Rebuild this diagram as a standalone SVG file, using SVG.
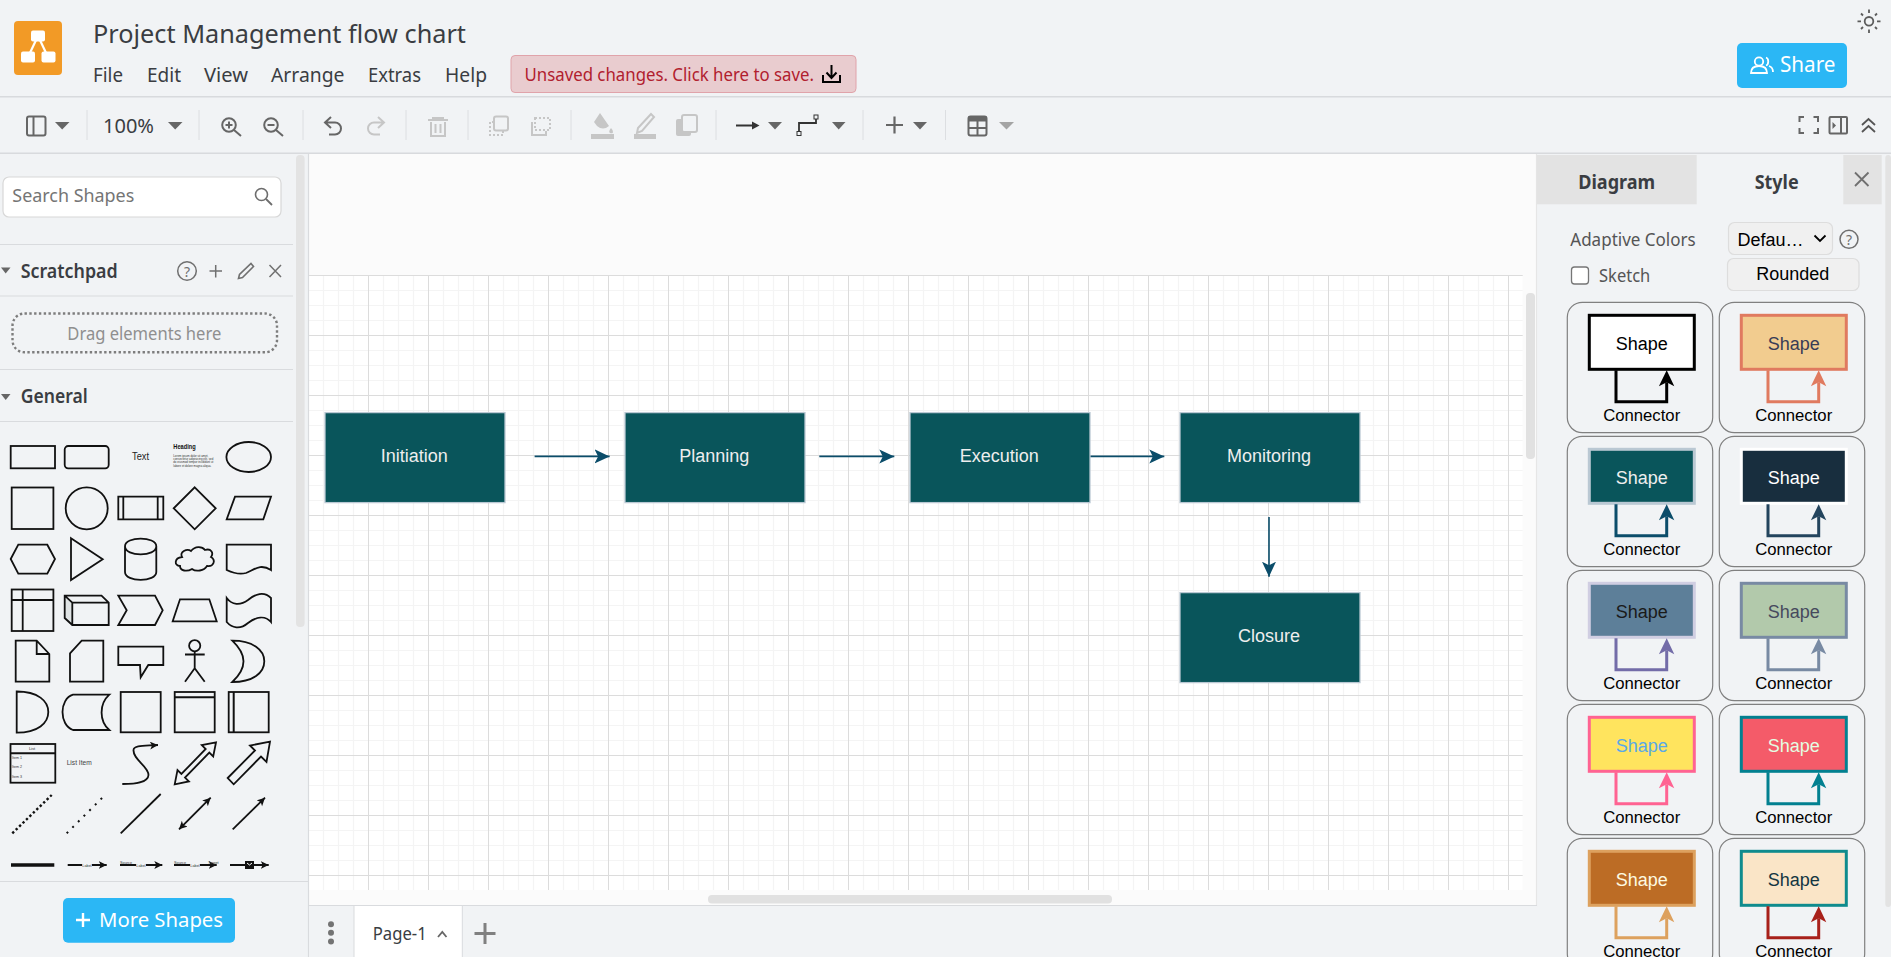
<svg xmlns="http://www.w3.org/2000/svg" width="1891" height="957" viewBox="0 0 1891 957">
<style>
text{font-family:"Noto Sans","Open Sans","Liberation Sans",sans-serif;fill:#3a3d42}
.ls{font-family:"Liberation Sans",Arial,sans-serif}
.sep{stroke:#dcdee1;stroke-width:1;fill:none}
.rule{stroke:#d8dadd;stroke-width:1.5;fill:none}
.ic{fill:none;stroke:#666;stroke-width:2}
.off{fill:none;stroke:#c6c6c6;stroke-width:2}
.dd{fill:#666}
.ddl{fill:#a4a4a4}
.p{fill:none;stroke:#111;stroke-width:1.8}
.card{fill:none;stroke:#808080;stroke-width:1.2}
.node rect{fill:#09555b;stroke:#bac8d3;stroke-width:1.3}
.node text{font-family:"Liberation Sans",Arial,sans-serif;font-size:18px;fill:#eeeeee;text-anchor:middle}
.conn{fill:none;stroke:#0b4d6a;stroke-width:1.6}
.cshape{font-family:"Liberation Sans",Arial,sans-serif;font-size:18px;text-anchor:middle}
.cconn{font-family:"Liberation Sans",Arial,sans-serif;font-size:16.7px;text-anchor:middle;fill:#000}
</style>
<defs>
<pattern id="grid" x="308" y="275" width="60" height="60" patternUnits="userSpaceOnUse">
<path d="M15.5 0V60M30.5 0V60M45.5 0V60M0 15.5H60M0 30.5H60M0 45.5H60" stroke="#f4f4f4" stroke-width="1.2" fill="none"/>
<path d="M0.5 0V60M0 0.5H60" stroke="#dcdcdc" stroke-width="1" fill="none"/>
</pattern>
<marker id="head" markerUnits="userSpaceOnUse" markerWidth="16" markerHeight="16" refX="15" refY="8" orient="auto">
<path d="M0 1 L15 8 L0 15 L3.5 8Z" fill="#0b4d6a"/>
</marker>
<marker id="bk" markerUnits="userSpaceOnUse" markerWidth="10" markerHeight="10" refX="8" refY="4" orient="auto-start-reverse">
<path d="M0 0 L8 4 L0 8 L2 4Z" fill="#111"/>
</marker>
</defs>

<rect width="1891" height="957" fill="#f1f3f5"/>

<!-- canvas -->
<g id="canvas">
<rect x="309" y="154" width="1228" height="752" fill="#fbfbfb"/>
<rect x="309" y="276" width="1213.7" height="614" fill="#fff"/>
<rect x="309" y="275" width="1213.7" height="615" fill="url(#grid)"/>
<rect x="1526" y="293" width="9" height="166" rx="4" fill="#e1e1e1"/>
<rect x="708" y="895" width="404" height="8.5" rx="4" fill="#e1e1e1"/>
<path d="M308.5 154V957" stroke="#d9dbde" stroke-width="1.2"/>
<path d="M1536.5 154V907" stroke="#e6e6e6" stroke-width="1.2"/>
</g>

<!-- header -->
<g id="header">
<rect x="14" y="21" width="48" height="54" rx="4" fill="#f29a26"/>
<path d="M38 36 L28 57 M38 36 L48 57" stroke="#fff" stroke-width="2.2"/>
<rect x="31" y="30.5" width="14" height="11" rx="2" fill="#fff"/>
<rect x="21" y="51.5" width="14" height="11" rx="2" fill="#fff"/>
<rect x="41.5" y="51.5" width="14" height="11" rx="2" fill="#fff"/>
<text x="93" y="42.7" font-size="25" textLength="373" lengthAdjust="spacingAndGlyphs">Project Management flow chart</text>
<text x="93" y="82.3" font-size="19.5" textLength="30" lengthAdjust="spacingAndGlyphs">File</text>
<text x="147" y="82.3" font-size="19.5" textLength="34" lengthAdjust="spacingAndGlyphs">Edit</text>
<text x="204" y="82.3" font-size="19.5" textLength="44" lengthAdjust="spacingAndGlyphs">View</text>
<text x="271" y="82.3" font-size="19.5" textLength="73.5" lengthAdjust="spacingAndGlyphs">Arrange</text>
<text x="368" y="82.3" font-size="19.5" textLength="53" lengthAdjust="spacingAndGlyphs">Extras</text>
<text x="445" y="82.3" font-size="19.5" textLength="42" lengthAdjust="spacingAndGlyphs">Help</text>
<rect x="511" y="55.5" width="345" height="37" rx="4" fill="#e9cccf" stroke="#e0a3aa" stroke-width="1"/>
<text x="524.5" y="81" font-size="18" textLength="289.5" lengthAdjust="spacingAndGlyphs" style="fill:#b1202e">Unsaved changes. Click here to save.</text>
<path d="M831.5 65V77M826.5 72.5L831.5 78L836.5 72.5M823 75V82H840V75" fill="none" stroke="#000" stroke-width="2"/>
<g fill="none" stroke="#5c5c5c" stroke-width="1.8">
<circle cx="1869" cy="21.3" r="4.3"/>
<path d="M1869 9.5v3.5M1869 29.5v3.5M1857.5 21.3h3.5M1877 21.3h3.5M1861 13.5l2 2M1875 27l2 2M1861 29l2-2M1875 15.5l2-2"/>
</g>
<rect x="1737" y="43" width="110" height="45" rx="5" fill="#2bb7f5"/>
<g fill="none" stroke="#fff" stroke-width="1.8">
<circle cx="1759" cy="61.5" r="4.2"/>
<path d="M1751 73c0-5 3-7 8-7s8 2 8 7zM1766 57.5c3 1 3 7 0 8M1769 66c3 1 4 3 4 6"/>
</g>
<text x="1780" y="72" font-size="21" textLength="55.5" lengthAdjust="spacingAndGlyphs" style="fill:#fff">Share</text>
<path class="rule" d="M0 96.7H1891M0 153.3H1891"/>
</g>

<!-- toolbar -->
<g id="toolbar">
<path class="sep" d="M87 110V140M199 110V140M303 110V140M406 110V140M468 110V140M571 110V140M716 110V140M863 110V140M945.5 110V140"/>
<rect x="27" y="116.5" width="18.5" height="19" rx="2" class="ic"/><path class="ic" d="M33.5 116.5V135.5"/>
<polygon class="dd" points="55,122 69.5,122 62.2,129.5"/>
<text x="103" y="133" font-size="20" textLength="51" lengthAdjust="spacingAndGlyphs">100%</text>
<polygon class="dd" points="168,122 182.5,122 175.2,129.5"/>
<circle cx="229" cy="125" r="6.8" class="ic"/><path class="ic" d="M234 130L241 136M225.5 125H232.5M229 121.5V128.5"/>
<circle cx="271" cy="125" r="6.8" class="ic"/><path class="ic" d="M276 130L283 136M267.5 125H274.5"/>
<path class="ic" d="M331 117L325 122.5L331 128M325 122.5H335a6 6 0 0 1 0 12H329"/>
<path class="off" d="M378 117L384 122.5L378 128M384 122.5H374a6 6 0 0 0 0 12H380"/>
<path class="off" d="M428 120H448M433 120V118H443V120M431 122V136H445V122M435.5 124V133M440.5 124V133"/>
<rect x="494" y="116.5" width="14" height="14" rx="2" class="off"/><path class="off" stroke-dasharray="2 2" d="M494 122H490V135H503V131"/>
<path class="off" stroke-dasharray="2 2" d="M535 118H550V130H535Z"/><path class="off" d="M532 122V135H546V131"/>
<path d="M600 113L609 126Q603 131 597 126L594 122Z M611 128q-3 4-1 5q3 1 3-1q0-2-2-4Z" fill="#c6c6c6"/>
<rect x="591" y="134" width="23" height="5" fill="#c6c6c6"/>
<path d="M651 114l3 3-12 14-5 2 1-5z" fill="none" stroke="#c6c6c6" stroke-width="2"/>
<rect x="634" y="134" width="22" height="5" fill="#c6c6c6"/>
<rect x="676" y="119" width="15" height="17" rx="2" fill="#c6c6c6"/>
<rect x="682" y="115" width="15" height="17" rx="2" fill="#f1f3f5" stroke="#c6c6c6" stroke-width="2"/>
<path d="M736 125.5H757" stroke="#333" stroke-width="2"/><path d="M752 121.5L759.5 125.5L752 129.5Z" fill="#333"/>
<polygon class="dd" points="768,122 782,122 775,129.5"/>
<path d="M799 132V123H816V118" fill="none" stroke="#333" stroke-width="1.8"/>
<rect x="797" y="131.5" width="4" height="4" fill="#f1f3f5" stroke="#333"/><rect x="814" y="115" width="4" height="4" fill="#f1f3f5" stroke="#333"/>
<polygon class="dd" points="832,122 845.5,122 838.7,129.5"/>
<path d="M886 125H903M894.5 116.5V133.5" stroke="#666" stroke-width="2.2" fill="none"/>
<polygon class="dd" points="913,122 927,122 920,129.5"/>
<rect x="968.5" y="116.5" width="18" height="19" rx="2" class="ic"/>
<rect x="968.5" y="116.5" width="18" height="5" fill="#666"/><path class="ic" d="M968.5 128H986.5M977.5 121V135"/>
<polygon class="ddl" points="999,122 1014,122 1006.5,129.5"/>
<path class="ic" d="M1799.5 122V117H1804M1813.5 117H1818V122M1818 128V133H1813.5M1804 133H1799.5V128"/>
<rect x="1829.5" y="117" width="17.5" height="16.5" rx="1" class="ic"/><path class="ic" d="M1841 117V133"/><path d="M1832.5 122L1836 125.5L1832.5 129Z" fill="#666"/>
<path d="M1862 125L1868.5 119L1875 125M1862 132L1868.5 126L1875 132" fill="none" stroke="#555" stroke-width="1.8"/>
</g>

<!-- left sidebar -->
<g id="sidebar">
<rect x="296" y="155" width="8.6" height="472" rx="4" fill="#e3e3e3"/>
<rect x="3" y="177" width="278" height="40" rx="6" fill="#fff" stroke="#d8d8d8" stroke-width="1.2"/>
<text x="12.3" y="201.7" font-size="17.5" textLength="122" lengthAdjust="spacingAndGlyphs" style="fill:#757575">Search Shapes</text>
<circle cx="261.5" cy="194.5" r="6" fill="none" stroke="#6d6d6d" stroke-width="1.6"/><path d="M266 199L272 205" stroke="#6d6d6d" stroke-width="1.8"/>
<path class="sep" d="M0 244.5H293M0 296H293M0 369.5H293M0 421.5H293" style="stroke:#d9dbde;stroke-width:1.2"/>
<polygon points="1,267.5 10.5,267.5 5.7,273.5" fill="#666"/>
<text x="20.7" y="278" font-size="19" font-weight="600" textLength="97" lengthAdjust="spacingAndGlyphs">Scratchpad</text>
<circle cx="187" cy="271" r="9.3" fill="none" stroke="#707070" stroke-width="1.5"/>
<text x="187" y="276.5" font-size="14" text-anchor="middle" style="fill:#707070">?</text>
<path d="M209.5 271H222M215.7 265V277.5" stroke="#707070" stroke-width="1.5"/>
<path d="M251 263.5l2.5 3-11 11-4 1 1-4z" fill="none" stroke="#707070" stroke-width="1.6"/>
<path d="M269.5 265L281 277M281 265L269.5 277" stroke="#707070" stroke-width="1.5"/>
<rect x="12.5" y="313.5" width="264.5" height="38.8" rx="12" fill="none" stroke="#7d7d7d" stroke-width="2.4" stroke-dasharray="2.4 2.4"/>
<text x="144.3" y="340" font-size="17.5" text-anchor="middle" textLength="154" lengthAdjust="spacingAndGlyphs" style="fill:#8f8f8f">Drag elements here</text>
<polygon points="1,394 10.5,394 5.7,400" fill="#666"/>
<text x="20.7" y="402.7" font-size="19" font-weight="600" textLength="67" lengthAdjust="spacingAndGlyphs">General</text>
<path d="M0 881.5H308" stroke="#d9dbde" stroke-width="1.2"/>
<rect x="63" y="898" width="172" height="44.7" rx="5" fill="#2bb7f5"/>
<path d="M76 920H90M83 913V927" stroke="#fff" stroke-width="2.4"/>
<text x="99" y="927.3" font-size="20.5" textLength="124" lengthAdjust="spacingAndGlyphs" style="fill:#fff">More Shapes</text>
</g>

<!-- shape palette -->
<g id="palette">
<rect class="p" x="10.7" y="446" width="44.3" height="22.3"/>
<rect class="p" x="64.7" y="446" width="44" height="22.3" rx="3.5"/>
<text class="ls" x="132" y="460" font-size="10" textLength="17" lengthAdjust="spacingAndGlyphs" style="fill:#222">Text</text>
<text class="ls" x="173.3" y="449" font-size="6.5" font-weight="700" textLength="22.4" lengthAdjust="spacingAndGlyphs" style="fill:#111">Heading</text>
<text class="ls" x="173.3" y="457" font-size="3" textLength="35" lengthAdjust="spacingAndGlyphs" style="fill:#333">Lorem ipsum dolor sit amet,</text>
<text class="ls" x="173.3" y="460" font-size="3" textLength="40" lengthAdjust="spacingAndGlyphs" style="fill:#333">consectetur adipisicing elit, sed</text>
<text class="ls" x="173.3" y="463" font-size="3" textLength="40" lengthAdjust="spacingAndGlyphs" style="fill:#333">do eiusmod tempor incididunt ut</text>
<text class="ls" x="173.3" y="466.5" font-size="3" textLength="38" lengthAdjust="spacingAndGlyphs" style="fill:#333">labore et dolore magna aliqua.</text>
<ellipse class="p" cx="248.7" cy="457" rx="22.3" ry="15"/>

<rect class="p" x="11.7" y="487.5" width="41.7" height="41.5"/>
<circle class="p" cx="86.7" cy="508.3" r="21"/>
<path class="p" d="M118.3 496.7H163.3V519.3H118.3ZM123.3 496.7V519.3M157.7 496.7V519.3"/>
<polygon class="p" points="194.7,487.3 215.7,508.3 194.7,529.3 173.7,508.3"/>
<polygon class="p" points="226.7,519.3 235,496.7 271,496.7 263.3,519.3"/>

<polygon class="p" points="10.7,559 18.3,544.7 47.3,544.7 55,559 47.3,573.7 18.3,573.7"/>
<polygon class="p" points="71,538.3 102.7,559.3 71,580"/>
<path class="p" d="M125 546.3C125 536 156.3 536 156.3 546.3V572C156.3 582.5 125 582.5 125 572ZM125 546.3C125 557 156.3 557 156.3 546.3"/>
<path class="p" d="M182 557c-3-5 5-9 9-6 4-5 11-5 14-1 6-2 9 3 6 7 5 3 3 10-4 9-3 5-11 6-15 3-5 3-12 2-12-3-6 0-6-8 2-9z"/>
<path class="p" d="M226.7 544.7H271V570C260 563 254 570 246 573C239 575 233 573 226.7 570Z"/>

<rect class="p" x="11.7" y="589.5" width="41.7" height="41.5"/>
<path class="p" d="M22.7 589.5V631M11.7 600H53.4"/>
<path d="M64.7 595.7L72.3 602.7V625L64.7 618Z" fill="#dfe3e4"/>
<path class="p" d="M64.7 595.7H101.5L108.7 602.7V625H72.3L64.7 618ZM72.3 602.7H108.7M72.3 602.7V625M64.7 595.7L72.3 602.7"/>
<polygon class="p" points="118.3,595.7 155,595.7 162.7,610.3 155,625 118.3,625 126.7,610.3"/>
<polygon class="p" points="172.7,621.3 180,599.3 209.3,599.3 216.7,621.3"/>
<path class="p" d="M226.7 598C232 605 240 606 248 600C255 594 264 591 271 598V622C265 615 256 617 248 623C240 630 232 628 226.7 622Z"/>

<path class="p" d="M15.7 640.7H36.7L49.3 654V681.7H15.7ZM36.7 640.7V654H49.3"/>
<polygon class="p" points="70,653.3 81.7,640.7 103.3,640.7 103.3,681.7 70,681.7"/>
<path class="p" d="M118.3 646.7H163.3V665H148.3L140.7 677.3L140 665H118.3Z"/>
<circle class="p" cx="194.7" cy="645.7" r="5.6"/>
<path class="p" d="M194.7 651.3V668.3L185 681.7M194.7 668.3L204.7 681.7M185 654.5H204.7"/>
<path class="p" d="M232.3 640.7C253 640.7 264.3 650 264.3 661.3C264.3 673 253 682 232.3 682C241 674 243.5 667 243.5 661.3C243.5 655 241 649 232.3 640.7Z"/>

<path class="p" d="M16.7 691.5C38 691.5 48.3 701 48.3 712C48.3 723 38 732.7 16.7 732.7Z"/>
<path class="p" d="M73 694.7H109.3C99 704 99 721 109.3 730H73C59 725 59 699 73 694.7Z"/>
<rect class="p" x="120.7" y="692" width="40" height="40.3"/>
<rect class="p" x="174.7" y="692" width="40" height="40.3"/><path d="M174.7 697.3H214.7" stroke="#111" stroke-width="2"/>
<rect class="p" x="228.7" y="692" width="40" height="40.3"/><path d="M233.7 692V732.3" stroke="#111" stroke-width="2"/>

<rect class="p" x="10.5" y="744" width="44.8" height="38.7"/><path d="M10.5 753.3H55.3" stroke="#111" stroke-width="2"/>
<text class="ls" x="32" y="749.5" font-size="4" text-anchor="middle" style="fill:#333">List</text>
<text class="ls" x="12" y="759" font-size="3.6" style="fill:#333">Item 1</text>
<text class="ls" x="12" y="768.3" font-size="3.6" style="fill:#333">Item 2</text>
<text class="ls" x="12" y="778" font-size="3.6" style="fill:#333">Item 3</text>
<text class="ls" x="66.7" y="764.7" font-size="7.5" textLength="25" lengthAdjust="spacingAndGlyphs" style="fill:#444">List Item</text>
<path class="p" d="M122.3 784C135 784 148 783 148.5 775C148.5 766 133 760 133.5 750C134 745 145 746 158 745" marker-end="url(#bk)"/>
<polygon class="p" points="174.7,784.3 177.5,770.1 181.4,774 205.7,749 201.8,745.1 216,742.3 213.2,756.5 209.3,752.6 185,777.6 188.9,781.5"/>
<path class="p" d="M227.7 778L255 750.5L250 745.5L270 741.7L266.5 762L261 756.5L233.7 784.3Z"/>

<path d="M12.3 833.3L51.7 795" stroke="#111" stroke-width="2.4" stroke-dasharray="2.4 2.4" fill="none"/>
<path d="M66.7 833.3L103.3 796.7" stroke="#111" stroke-width="2" stroke-dasharray="2 6" fill="none"/>
<path d="M120.7 833.3L160.7 794" stroke="#111" stroke-width="1.8" fill="none"/>
<path class="p" d="M179 829.3L210.7 797.7" marker-start="url(#bk)" marker-end="url(#bk)"/>
<path class="p" d="M232.7 829.3L265 797.7" marker-end="url(#bk)"/>

<path d="M11 865H54.3" stroke="#111" stroke-width="3.5"/>
<path class="p" d="M67.7 865H106.7" marker-end="url(#bk)"/>
<rect x="82" y="862.5" width="10" height="5" fill="#f1f3f5"/><text class="ls" x="87" y="867" font-size="3.8" text-anchor="middle" style="fill:#333">Label</text>
<path class="p" d="M120 865H162.3" marker-end="url(#bk)"/>
<rect x="136" y="862.5" width="10" height="5" fill="#f1f3f5"/>
<text class="ls" x="120" y="864" font-size="3.8" style="fill:#333">Source</text>
<text class="ls" x="141" y="867" font-size="3.8" text-anchor="middle" style="fill:#333">Label</text>
<path class="p" d="M174 865H216.7" marker-end="url(#bk)"/>
<rect x="190" y="862.5" width="10" height="5" fill="#f1f3f5"/>
<text class="ls" x="174" y="864" font-size="3.8" style="fill:#333">Source</text>
<text class="ls" x="195" y="867" font-size="3.8" text-anchor="middle" style="fill:#333">Label</text>
<text class="ls" x="208" y="864" font-size="3.8" style="fill:#333">Target</text>
<path class="p" d="M230 865H268.7" marker-end="url(#bk)"/>
<rect x="245" y="861" width="9" height="8" fill="#111"/><path d="M247 863L249.5 865L252 863" fill="none" stroke="#fff" stroke-width="1"/>
</g>

<!-- tab bar -->
<g id="tabbar">
<rect x="309" y="905" width="1228" height="52" fill="#f1f3f5"/>
<path d="M309 905.5H1537" stroke="#d9dbde" stroke-width="1.2"/>
<rect x="354" y="905.5" width="108.3" height="52" fill="#fff" stroke="#d9dbde" stroke-width="1"/>
<circle cx="331" cy="924.3" r="3" fill="#737373"/><circle cx="331" cy="932.8" r="3" fill="#737373"/><circle cx="331" cy="941.5" r="3" fill="#737373"/>
<text x="372.7" y="940" font-size="17.5" textLength="54" lengthAdjust="spacingAndGlyphs">Page-1</text>
<path d="M438 937L442.3 932L446.5 937" fill="none" stroke="#666" stroke-width="1.8"/>
<path d="M474.5 933.5H495.5M485 923V944" stroke="#808080" stroke-width="3"/>
</g>

<!-- right panel -->
<g id="panel">
<rect x="1536.5" y="155" width="160.2" height="49.3" fill="#e3e3e3"/>
<rect x="1843.3" y="155" width="38.4" height="49.3" fill="#e3e3e3"/>
<rect x="1885.3" y="155" width="5.7" height="752" rx="3" fill="#e3e3e3"/>
<text x="1616.7" y="189" font-size="19" font-weight="700" text-anchor="middle" textLength="77" lengthAdjust="spacingAndGlyphs">Diagram</text>
<text x="1776.7" y="189" font-size="19" font-weight="700" text-anchor="middle" textLength="44" lengthAdjust="spacingAndGlyphs">Style</text>
<path d="M1855 172.5L1868.5 186M1868.5 172.5L1855 186" stroke="#707070" stroke-width="1.8"/>
<text x="1570.3" y="245.7" font-size="17.5" textLength="125.4" lengthAdjust="spacingAndGlyphs" style="fill:#555">Adaptive Colors</text>
<rect x="1728.5" y="222.5" width="104" height="32" rx="6" fill="#f0f0f0" stroke="#dddddd" stroke-width="1.2"/>
<text class="ls" x="1737.5" y="245.5" font-size="18" style="fill:#000">Defau…</text>
<path d="M1814.5 235.5L1820 241L1825.5 235.5" fill="none" stroke="#000" stroke-width="1.8"/>
<circle cx="1849" cy="239.3" r="9" fill="none" stroke="#707070" stroke-width="1.5"/>
<text x="1849" y="244.5" font-size="14" text-anchor="middle" style="fill:#707070">?</text>
<rect x="1571.5" y="267" width="17" height="17" rx="3" fill="#fff" stroke="#767676" stroke-width="1.3"/>
<text x="1599" y="281.7" font-size="17.5" textLength="51.3" lengthAdjust="spacingAndGlyphs" style="fill:#555">Sketch</text>
<rect x="1727.5" y="258.5" width="131.5" height="32" rx="6" fill="#f0f0f0" stroke="#dddddd" stroke-width="1.2"/>
<text class="ls" x="1792.7" y="280" font-size="18" text-anchor="middle" style="fill:#000">Rounded</text>
</g>

<!-- style cards -->
<g id="styles">
<g transform="translate(1567.3 302.3)"><rect class="card" width="145.4" height="130.3" rx="15"/><rect x="22" y="13" width="105" height="54" fill="#ffffff" stroke="#000000" stroke-width="3"/><path d="M48.7 68V99.4H99.4V80" fill="none" stroke="#000000" stroke-width="3"/><polygon points="99.4,68 107,84 99.4,80 91.6,84" fill="#000000"/><text class="cshape" x="74.4" y="48" style="fill:#000000">Shape</text><text class="cconn" x="74.4" y="118.4">Connector</text></g>
<g transform="translate(1719.3 302.3)"><rect class="card" width="145.4" height="130.3" rx="15"/><rect x="22" y="13" width="105" height="54" fill="#f2cc8f" stroke="#e07a5f" stroke-width="3"/><path d="M48.7 68V99.4H99.4V80" fill="none" stroke="#e07a5f" stroke-width="3"/><polygon points="99.4,68 107,84 99.4,80 91.6,84" fill="#e07a5f"/><text class="cshape" x="74.4" y="48" style="fill:#393c56">Shape</text><text class="cconn" x="74.4" y="118.4">Connector</text></g>
<g transform="translate(1567.3 436.3)"><rect class="card" width="145.4" height="130.3" rx="15"/><rect x="22" y="13" width="105" height="54" fill="#09555b" stroke="#bac8d3" stroke-width="3"/><path d="M48.7 68V99.4H99.4V80" fill="none" stroke="#0b4d6a" stroke-width="3"/><polygon points="99.4,68 107,84 99.4,80 91.6,84" fill="#0b4d6a"/><text class="cshape" x="74.4" y="48" style="fill:#eeeeee">Shape</text><text class="cconn" x="74.4" y="118.4">Connector</text></g>
<g transform="translate(1719.3 436.3)"><rect class="card" width="145.4" height="130.3" rx="15"/><rect x="22" y="13" width="105" height="54" fill="#182e3e" stroke="#ffffff" stroke-width="3"/><path d="M48.7 68V99.4H99.4V80" fill="none" stroke="#23445d" stroke-width="3"/><polygon points="99.4,68 107,84 99.4,80 91.6,84" fill="#23445d"/><text class="cshape" x="74.4" y="48" style="fill:#ffffff">Shape</text><text class="cconn" x="74.4" y="118.4">Connector</text></g>
<g transform="translate(1567.3 570.3)"><rect class="card" width="145.4" height="130.3" rx="15"/><rect x="22" y="13" width="105" height="54" fill="#5d7f99" stroke="#d0cee2" stroke-width="3"/><path d="M48.7 68V99.4H99.4V80" fill="none" stroke="#736ca8" stroke-width="3"/><polygon points="99.4,68 107,84 99.4,80 91.6,84" fill="#736ca8"/><text class="cshape" x="74.4" y="48" style="fill:#1a1a1a">Shape</text><text class="cconn" x="74.4" y="118.4">Connector</text></g>
<g transform="translate(1719.3 570.3)"><rect class="card" width="145.4" height="130.3" rx="15"/><rect x="22" y="13" width="105" height="54" fill="#b2c9ab" stroke="#788aa3" stroke-width="3"/><path d="M48.7 68V99.4H99.4V80" fill="none" stroke="#788aa3" stroke-width="3"/><polygon points="99.4,68 107,84 99.4,80 91.6,84" fill="#788aa3"/><text class="cshape" x="74.4" y="48" style="fill:#46495d">Shape</text><text class="cconn" x="74.4" y="118.4">Connector</text></g>
<g transform="translate(1567.3 704.3)"><rect class="card" width="145.4" height="130.3" rx="15"/><rect x="22" y="13" width="105" height="54" fill="#ffe45e" stroke="#ff6392" stroke-width="3"/><path d="M48.7 68V99.4H99.4V80" fill="none" stroke="#ff6392" stroke-width="3"/><polygon points="99.4,68 107,84 99.4,80 91.6,84" fill="#ff6392"/><text class="cshape" x="74.4" y="48" style="fill:#5aa9e6">Shape</text><text class="cconn" x="74.4" y="118.4">Connector</text></g>
<g transform="translate(1719.3 704.3)"><rect class="card" width="145.4" height="130.3" rx="15"/><rect x="22" y="13" width="105" height="54" fill="#f45b69" stroke="#028090" stroke-width="3"/><path d="M48.7 68V99.4H99.4V80" fill="none" stroke="#028090" stroke-width="3"/><polygon points="99.4,68 107,84 99.4,80 91.6,84" fill="#028090"/><text class="cshape" x="74.4" y="48" style="fill:#e4fde1">Shape</text><text class="cconn" x="74.4" y="118.4">Connector</text></g>
<g transform="translate(1567.3 838.3)"><rect class="card" width="145.4" height="130.3" rx="15"/><rect x="22" y="13" width="105" height="54" fill="#bc6c25" stroke="#dda15e" stroke-width="3"/><path d="M48.7 68V99.4H99.4V80" fill="none" stroke="#dda15e" stroke-width="3"/><polygon points="99.4,68 107,84 99.4,80 91.6,84" fill="#dda15e"/><text class="cshape" x="74.4" y="48" style="fill:#fefae0">Shape</text><text class="cconn" x="74.4" y="118.4">Connector</text></g>
<g transform="translate(1719.3 838.3)"><rect class="card" width="145.4" height="130.3" rx="15"/><rect x="22" y="13" width="105" height="54" fill="#fae5c7" stroke="#0f8b8d" stroke-width="3"/><path d="M48.7 68V99.4H99.4V80" fill="none" stroke="#a8201a" stroke-width="3"/><polygon points="99.4,68 107,84 99.4,80 91.6,84" fill="#a8201a"/><text class="cshape" x="74.4" y="48" style="fill:#143642">Shape</text><text class="cconn" x="74.4" y="118.4">Connector</text></g>
</g>

<!-- connectors -->
<g id="connectors">
<path class="conn" marker-end="url(#head)" d="M534.6 456.4H609.6"/>
<path class="conn" marker-end="url(#head)" d="M819.3 456.4H894.3"/>
<path class="conn" marker-end="url(#head)" d="M1090 456.4H1164.3"/>
<path class="conn" marker-end="url(#head)" d="M1269 517V576.7"/>
</g>

<!-- nodes -->
<g id="node-initiation" class="node"><rect x="325" y="412.6" width="180" height="90"/><text x="414.2" y="461.7">Initiation</text></g>
<g id="node-planning" class="node"><rect x="625" y="412.6" width="180" height="90"/><text x="714.2" y="461.7">Planning</text></g>
<g id="node-execution" class="node"><rect x="910" y="412.6" width="180" height="90"/><text x="999.2" y="461.7">Execution</text></g>
<g id="node-monitoring" class="node"><rect x="1180" y="412.6" width="180" height="90"/><text x="1269" y="461.7">Monitoring</text></g>
<g id="node-closure" class="node"><rect x="1180" y="592.6" width="180" height="90"/><text x="1269" y="641.7">Closure</text></g>
</svg>
